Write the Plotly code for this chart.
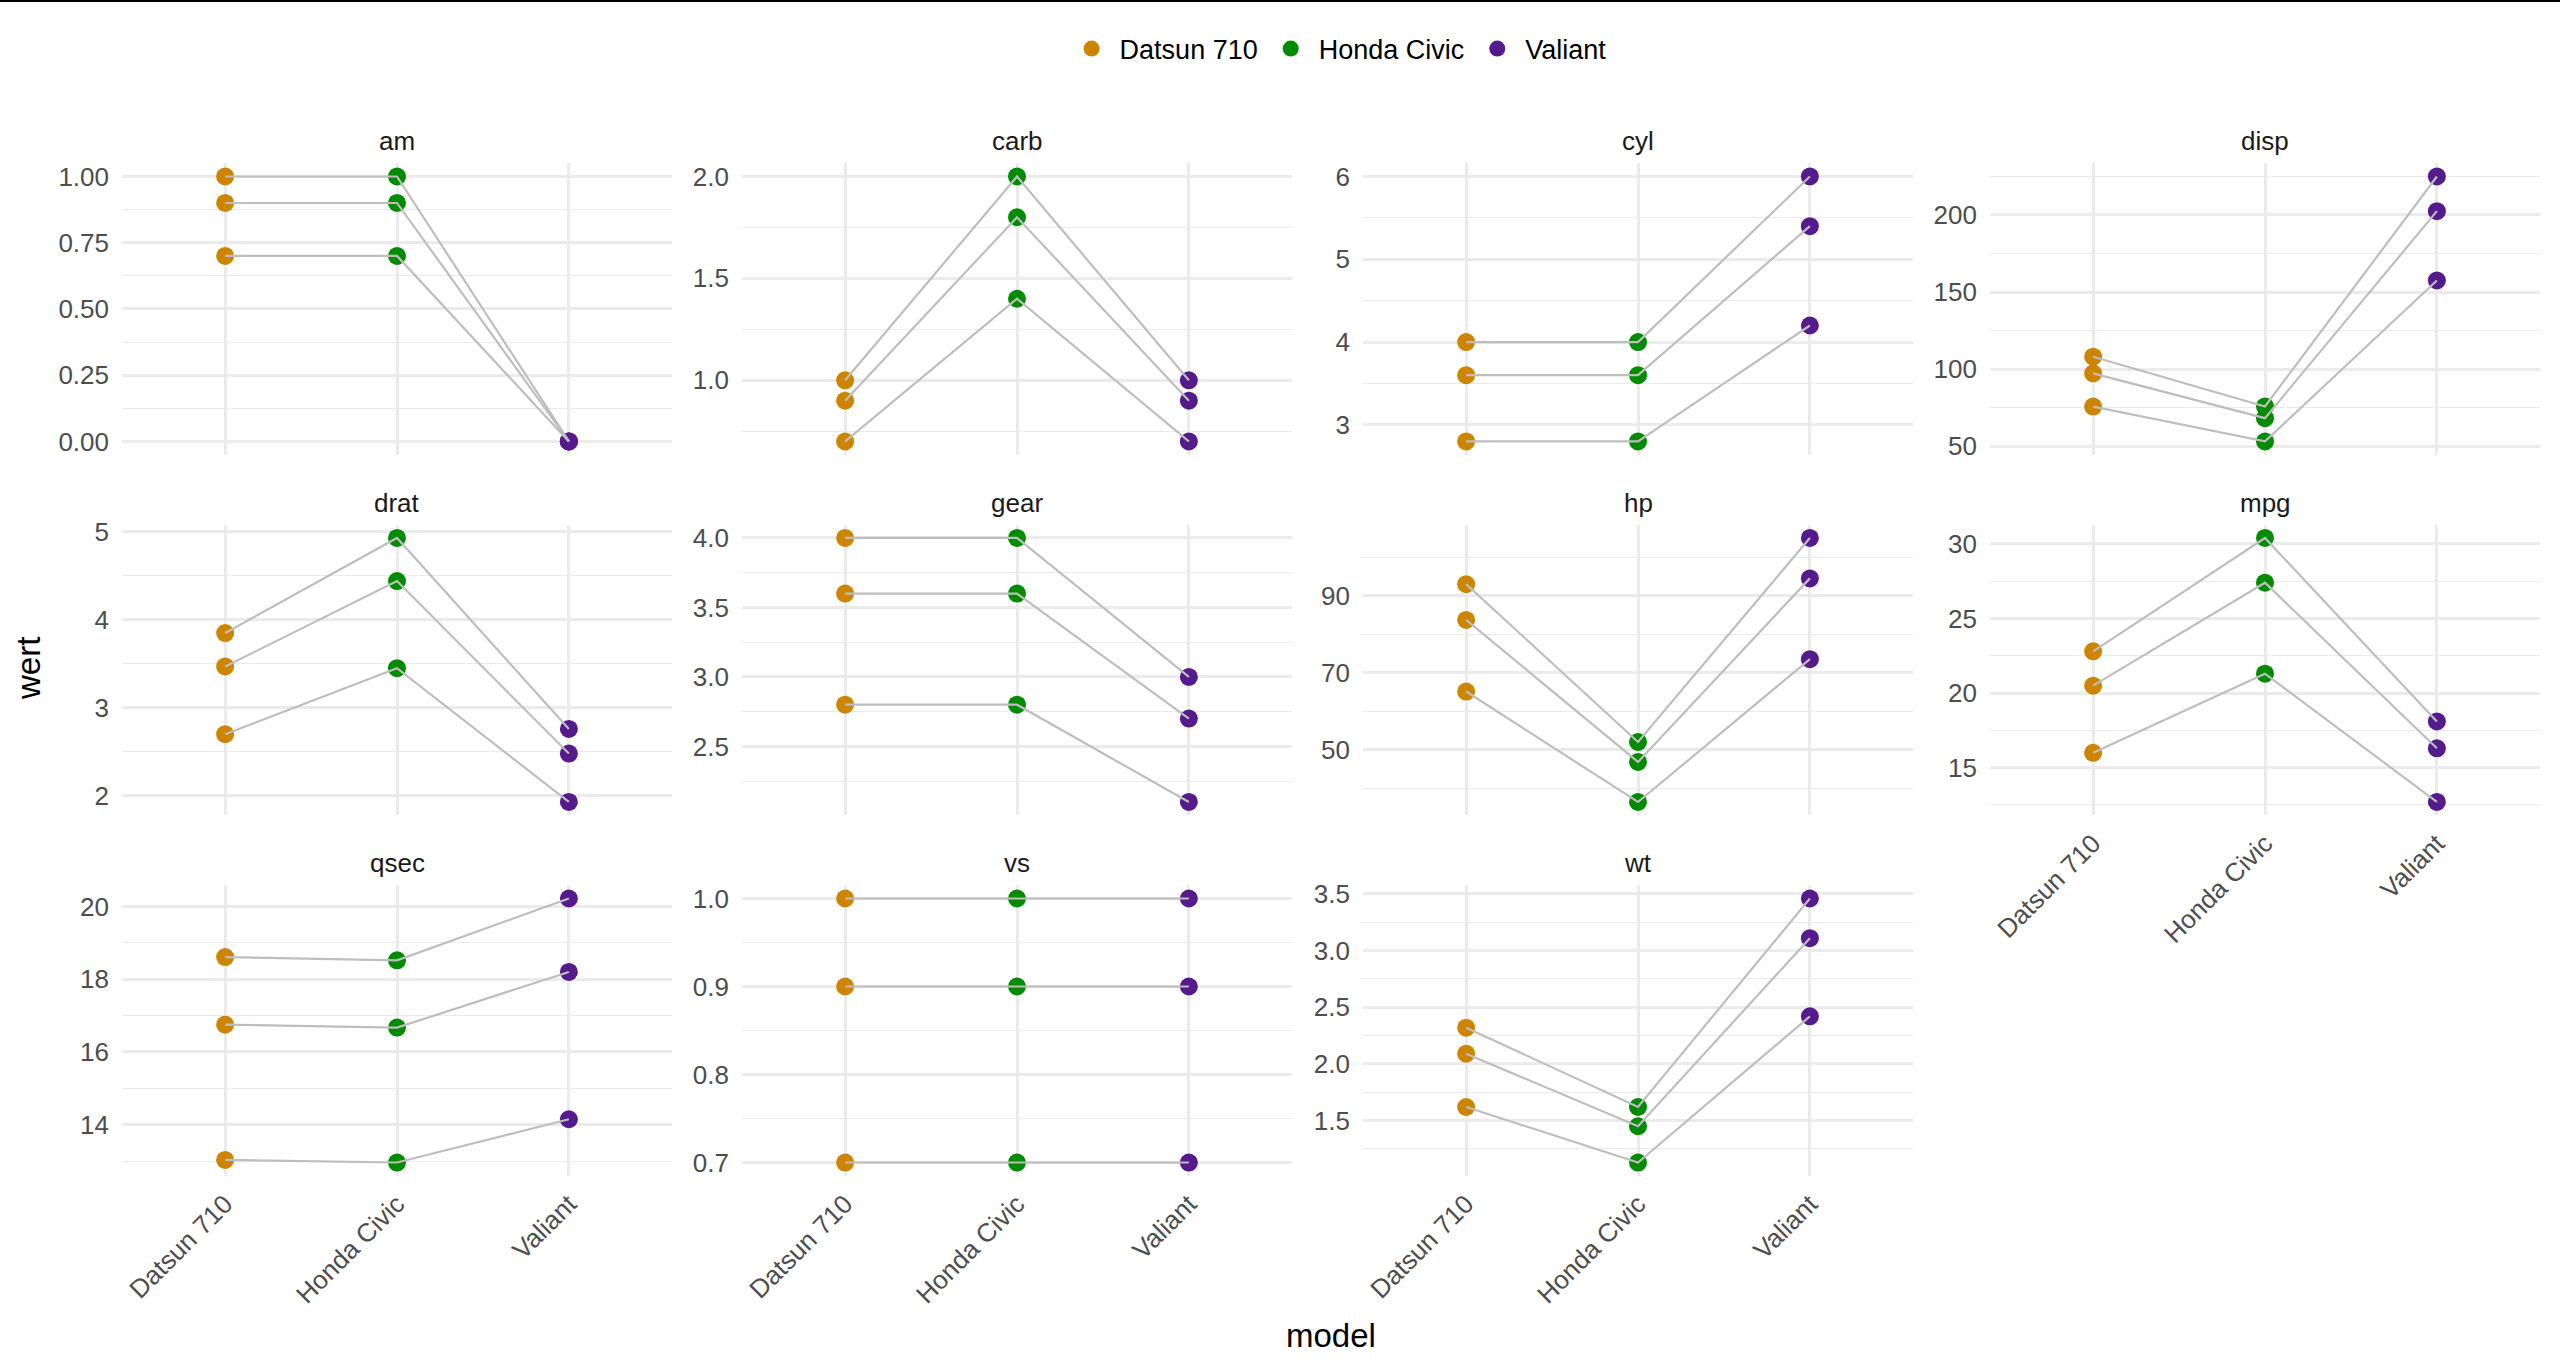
import plotly.graph_objects as go

# ---------------- data ----------------
models = ["Datsun 710", "Honda Civic", "Valiant"]
variables = ["am", "carb", "cyl", "disp", "drat", "gear", "hp", "mpg", "qsec", "vs", "wt"]

# each variable: three series (rows), values for the three models (columns)
am = [[1.00, 1.00, 0.00], [0.90, 0.90, 0.00], [0.70, 0.70, 0.00]]
carb = [[1.0, 2.0, 1.0], [0.9, 1.8, 0.9], [0.7, 1.4, 0.7]]
cyl = [[4.0, 4.0, 6.0], [3.6, 3.6, 5.4], [2.8, 2.8, 4.2]]
disp = [[108.0, 75.7, 225.0], [97.2, 68.1, 202.5], [75.6, 53.0, 157.5]]
drat = [[3.85, 4.93, 2.76], [3.47, 4.44, 2.48], [2.70, 3.45, 1.93]]
gear = [[4.0, 4.0, 3.0], [3.6, 3.6, 2.7], [2.8, 2.8, 2.1]]
hp = [[93.0, 52.0, 105.0], [83.7, 46.8, 94.5], [65.1, 36.4, 73.5]]
mpg = [[22.8, 30.4, 18.1], [20.5, 27.4, 16.3], [16.0, 21.3, 12.7]]
qsec = [[18.61, 18.52, 20.22], [16.75, 16.67, 18.20], [13.03, 12.96, 14.15]]
vs = [[1.0, 1.0, 1.0], [0.9, 0.9, 0.9], [0.7, 0.7, 0.7]]
wt = [[2.32, 1.62, 3.46], [2.09, 1.45, 3.11], [1.62, 1.13, 2.42]]

values = {"am": am, "carb": carb, "cyl": cyl, "disp": disp, "drat": drat, "gear": gear,
          "hp": hp, "mpg": mpg, "qsec": qsec, "vs": vs, "wt": wt}

# ---------------- style ----------------
colors = ["#CD8500", "#008B00", "#551A8B"]
W, H = 2560, 1384
KY = 1384 / 1368  # vertical correction for the page capture


def py(px):
    """paper y for a target pixel row in the final picture"""
    return 1 - px * KY / H


FONT = "Liberation Sans, Arial, sans-serif"
col_px = [(122, 672), (742, 1292), (1363, 1913), (1990, 2540)]
row_px = [(163, 454), (524, 814), (884, 1174)]
# tick spacing, format, tick0, minor spacing
tick_style = {
    "am": (0.25, ".2f", 0, 0.125),
    "carb": (0.5, ".1f", 0, 0.25),
    "cyl": (1, "d", 0, 0.5),
    "disp": (50, "d", 0, 25),
    "drat": (1, "d", 0, 0.5),
    "gear": (0.5, ".1f", 0, 0.25),
    "hp": (20, "d", 10, 10),
    "mpg": (5, "d", 0, 2.5),
    "qsec": (2, "d", 0, 1),
    "vs": (0.1, ".1f", 0, 0.05),
    "wt": (0.5, ".1f", 0, 0.25),
}

fig = go.Figure()
layout = dict(
    width=W, height=H, margin=dict(l=0, r=0, t=0, b=0),
    plot_bgcolor="white", paper_bgcolor="white",
    font=dict(family=FONT, size=26, color="#4D4D4D"),
    showlegend=True,
    legend=dict(orientation="h", x=0.5225, xanchor="center", y=py(49), yanchor="middle",
                font=dict(size=27, color="#000000"), itemsizing="trace", itemwidth=46,
                traceorder="normal"),
)
annotations = []

for i, var in enumerate(variables):
    r, c = divmod(i, 4)
    idx = i + 1
    xa = "x" if idx == 1 else f"x{idx}"
    ya = "y" if idx == 1 else f"y{idx}"
    x0, x1 = col_px[c]
    t, b = row_px[r]
    data = values[var]

    # points first
    for m, model in enumerate(models):
        fig.add_trace(go.Scatter(
            x=[model] * len(data), y=[series[m] for series in data],
            mode="markers", name=model, legendgroup=model, showlegend=(i == 0),
            marker=dict(color=colors[m], size=18, line=dict(width=0)),
            xaxis=xa, yaxis=ya, hoverinfo="skip"))
    # lines on top
    for series in data:
        fig.add_trace(go.Scatter(
            x=models, y=series, mode="lines", showlegend=False,
            line=dict(color="#BEBEBE", width=2.2),
            xaxis=xa, yaxis=ya, hoverinfo="skip"))

    allv = [v for s in data for v in s]
    lo, hi = min(allv), max(allv)
    pad = (hi - lo) * 0.05
    dt, fmt, t0, mdt = tick_style[var]

    bottom_of_col = (r == 2) or (c == 3 and r == 1)
    layout["xaxis" if idx == 1 else f"xaxis{idx}"] = dict(
        domain=[x0 / W, x1 / W], anchor=ya, type="category",
        categoryorder="array", categoryarray=models,
        range=[-0.6, 2.6], showgrid=True, gridcolor="#EBEBEB", gridwidth=2.6,
        zeroline=False, showline=False, ticks="",
        showticklabels=bottom_of_col, tickangle=-45, ticklabelstandoff=7,
        tickfont=dict(size=26, color="#4D4D4D", family=FONT))
    layout["yaxis" if idx == 1 else f"yaxis{idx}"] = dict(
        domain=[py(b), py(t)], anchor=xa,
        range=[lo - pad, hi + pad], tick0=t0, dtick=dt, tickformat=fmt,
        showgrid=True, gridcolor="#EBEBEB", gridwidth=2.6,
        minor=dict(dtick=mdt, tick0=0, showgrid=True, gridcolor="#EBEBEB", gridwidth=1.3, ticks=""),
        zeroline=False, showline=False, ticks="", ticklabelstandoff=12,
        tickfont=dict(size=26, color="#4D4D4D", family=FONT))

    annotations.append(dict(
        text=var, x=(x0 + x1) / 2 / W, y=py(t - 22), xref="paper", yref="paper",
        xanchor="center", yanchor="middle", showarrow=False,
        font=dict(size=26, color="#1A1A1A", family=FONT)))

annotations.append(dict(
    text="wert", x=29 / W, y=py(668), xref="paper", yref="paper", textangle=-90,
    xanchor="center", yanchor="middle", showarrow=False,
    font=dict(size=33, color="#000000", family=FONT)))
annotations.append(dict(
    text="model", x=1331 / W, y=py(1334), xref="paper", yref="paper",
    xanchor="center", yanchor="middle", showarrow=False,
    font=dict(size=33, color="#000000", family=FONT)))

layout["annotations"] = annotations
layout["shapes"] = [dict(type="rect", xref="paper", yref="paper", x0=0, x1=1,
                         y0=1 - 2 / H, y1=1, fillcolor="#000000", line=dict(width=0))]
fig.update_layout(**layout)
fig.write_html(
    "out.html",
    config={"displayModeBar": False},
    post_script=("document.documentElement.style.margin='0';"
                 "document.body.style.margin='0';document.body.style.padding='0';"
                 "document.body.style.overflow='hidden';"
                 "var g=document.getElementById('{plot_id}');"
                 "g.style.position='absolute';g.style.top='-8px';g.style.left='0px';"),
)
